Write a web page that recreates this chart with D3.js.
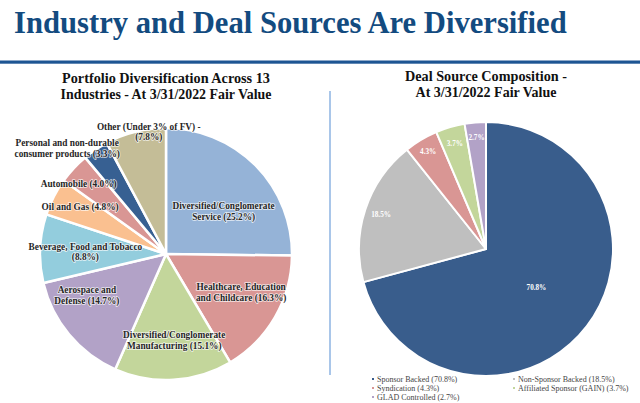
<!DOCTYPE html>
<html><head><meta charset="utf-8">
<script src="https://cdn.jsdelivr.net/npm/d3@7"></script>
<style>
html,body{margin:0;padding:0;background:#fff;}
svg{display:block;}
</style></head>
<body><svg id="c" width="640" height="403"></svg>
<script>
// ---------- DATA ----------
const industries = [
  ["Diversified/Conglomerate", "Service (25.2%)"],
  ["Healthcare, Education", "and Childcare (16.3%)"],
  ["Diversified/Conglomerate", "Manufacturing (15.1%)"],
  ["Aerospace and", "Defense (14.7%)"],
  ["Beverage, Food and Tobacco", "(8.8%)"],
  ["Oil and Gas (4.8%)"],
  ["Automobile (4.0%)"],
  ["Personal and non-durable", "consumer products (3.3%)"],
  ["Other (Under 3% of FV) -", "(7.8%)"]
];
const industryValues = [25.2, 16.3, 15.1, 14.7, 8.8, 4.8, 4.0, 3.3, 7.8];

const dealSources = ["Sponsor Backed (70.8%)", "Non-Sponsor Backed (18.5%)", "Syndication (4.3%)",
  "Affiliated Sponsor (GAIN) (3.7%)", "GLAD Controlled (2.7%)"];
const dealValues = [70.8, 18.5, 4.3, 3.7, 2.7];
const dealLabels = ["70.8%", "18.5%", "4.3%", "3.7%", "2.7%"];

const mainTitle = "Industry and Deal Sources Are Diversified";
const leftTitle = ["Portfolio Diversification Across 13", "Industries - At 3/31/2022 Fair Value"];
const rightTitle = ["Deal Source Composition -", "At 3/31/2022 Fair Value"];

// ---------- STYLE / LAYOUT ----------
const industryColors = ["#95B3D7", "#D99694", "#C3D69B", "#B2A2C7", "#93CDDD", "#FAC090", "#D99694", "#376092", "#C4BD97"];
const dealColors = ["#395D8C", "#BFBFBF", "#D99694", "#C3D69B", "#B2A2C7"];
// label placement: [radius factor, angle offset in degrees] relative to slice mid-angle
const industryLabelPos = [[0.57, 8], [0.67, -3], [0.69, -2], [0.71, 12], [0.64, -1], [0.78, 2], [0.89, -4], [1.15, -9], [0.98, 6]];
const dealLabelR = [0.5, 0.87, 0.89, 0.87, 0.88];

const serif = "Liberation Serif, DejaVu Serif, serif";
const svg = d3.select("#c");

function fitWidth(t, w) {
  const cur = t.node().getComputedTextLength();
  const fs = parseFloat(t.attr("font-size"));
  t.attr("font-size", fs * w / cur);
}

// main title
const mt = svg.append("text").attr("x", 14).attr("y", 33)
  .attr("font-family", serif).attr("font-weight", "bold").attr("font-size", 32)
  .attr("fill", "#134B80").text(mainTitle);
fitWidth(mt, 553);

svg.append("rect").attr("x", 0).attr("y", 60.5).attr("width", 640).attr("height", 3.2).attr("fill", "#1E5593");

// vertical separator
svg.append("line").attr("x1", 330).attr("x2", 330).attr("y1", 91).attr("y2", 375)
  .attr("stroke", "#8DB3E2").attr("stroke-width", 1.5);

// chart titles
function titleLines(lines, cx, ys, widths) {
  lines.forEach((l, i) => {
    const t = svg.append("text").attr("x", cx).attr("y", ys[i]).attr("text-anchor", "middle")
      .attr("font-family", serif).attr("font-weight", "bold").attr("font-size", 14)
      .attr("fill", "#111").text(l);
    fitWidth(t, widths[i]);
  });
}
titleLines(leftTitle, 166, [83, 99], [208, 211]);
titleLines(rightTitle, 486, [81, 97], [162, 141]);

// ---------- LEFT PIE ----------
const toRad = Math.PI / 180;
const pie = d3.pie().sort(null).value(d => d);
{
  const cx = 166, cy = 254, r = 126;
  const g = svg.append("g").attr("transform", `translate(${cx},${cy})`);
  const arcs = pie(industryValues);
  const arc = d3.arc().innerRadius(0).outerRadius(r);
  g.selectAll("path").data(arcs).join("path")
    .attr("d", arc).attr("fill", (d, i) => industryColors[i])
    .attr("stroke", "#fff").attr("stroke-width", 2.5).attr("stroke-linejoin", "round");
  arcs.forEach((d, i) => {
    const [rf, off] = industryLabelPos[i];
    const a = (d.startAngle + d.endAngle) / 2 + off * toRad;
    const x = Math.sin(a) * r * rf, y = -Math.cos(a) * r * rf;
    const lines = industries[i];
    const t = g.append("text").attr("text-anchor", "middle")
      .attr("font-family", serif).attr("font-weight", "bold").attr("font-size", 9.3)
      .attr("fill", "#262626").attr("stroke", "rgba(255,255,255,0.75)").attr("stroke-width", 1.6)
      .attr("paint-order", "stroke").attr("stroke-linejoin", "round");
    lines.forEach((l, j) => {
      t.append("tspan").attr("x", x)
        .attr("y", y + (j - (lines.length - 1) / 2) * 10.8 + 3.2).text(l);
    });
  });
}

// ---------- RIGHT PIE ----------
{
  const cx = 486, cy = 249, r = 127;
  const g = svg.append("g").attr("transform", `translate(${cx},${cy})`);
  const arcs = pie(dealValues);
  const arc = d3.arc().innerRadius(0).outerRadius(r);
  g.selectAll("path").data(arcs).join("path")
    .attr("d", arc).attr("fill", (d, i) => dealColors[i])
    .attr("stroke", "#fff").attr("stroke-width", 2).attr("stroke-linejoin", "round");
  arcs.forEach((d, i) => {
    const a = (d.startAngle + d.endAngle) / 2;
    const rr = r * dealLabelR[i];
    g.append("text").attr("x", Math.sin(a) * rr).attr("y", -Math.cos(a) * rr + 2.5)
      .attr("text-anchor", "middle").attr("font-family", serif).attr("font-weight", "bold")
      .attr("font-size", 7.2).attr("fill", "#fff").text(dealLabels[i]);
  });

  // legend
  const lg = svg.append("g");
  dealSources.forEach((s, i) => {
    const col = i % 2, row = Math.floor(i / 2);
    const x = col === 0 ? 373 : 514, y = 379 + row * 9;
    lg.append("rect").attr("x", x - 1).attr("y", y - 1).attr("width", 2).attr("height", 2).attr("fill", dealColors[i]);
    lg.append("text").attr("x", x + 4).attr("y", y + 2.8).attr("font-family", serif)
      .attr("font-size", 8).attr("fill", "#444").text(s);
  });
}
</script></body></html>
